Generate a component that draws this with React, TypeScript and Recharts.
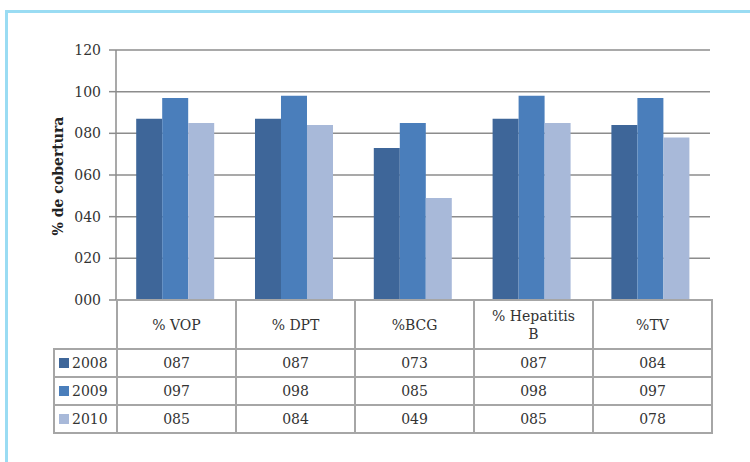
import * as React from "react"
import { BarChart, Bar, XAxis, YAxis, CartesianGrid } from "recharts"

const vaccines = ["% VOP", "% DPT", "%BCG", "% Hepatitis B", "%TV"]
const years = ["2008", "2009", "2010"]
const values2008 = [87, 87, 73, 87, 84]
const values2009 = [97, 98, 85, 98, 97]
const values2010 = [85, 84, 49, 85, 78]
const yTicks = [0, 20, 40, 60, 80, 100, 120]

const colors = ["#3e6699", "#4a7ebb", "#a8b9d9"]
const serif = "DejaVu Serif, serif"
const gridColor = "#8c8c8c"
const tableBorder = "2px solid #a6a6a6"

const pad3 = (v: number) => String(v).padStart(3, "0")

const data = vaccines.map((name, i) => ({
  name,
  "2008": values2008[i],
  "2009": values2009[i],
  "2010": values2010[i],
}))
const seriesValues = [values2008, values2009, values2010]

const cell: React.CSSProperties = {
  border: tableBorder,
  padding: 0,
  textAlign: "center",
  color: "#333",
}

export default function App() {
  return (
    <div
      style={{
        position: "fixed",
        left: 0,
        top: 0,
        width: 750,
        height: 462,
        overflow: "hidden",
        background: "#fff",
        fontFamily: serif,
      }}
    >
      {/* light blue frame */}
      <div
        style={{
          position: "absolute",
          left: 5,
          top: 10,
          width: 800,
          height: 500,
          borderTop: "3px solid #9adcf3",
          borderLeft: "3px solid #9adcf3",
        }}
      />
      <div style={{ position: "absolute", left: 0, top: 0 }}>
        <BarChart
          width={750}
          height={310}
          data={data}
          margin={{ top: 50, right: 40, bottom: 10, left: 0 }}
          barCategoryGap="17%"
          barGap={0}
        >
          <CartesianGrid vertical={false} stroke={gridColor} strokeWidth={1.5} />
          <XAxis dataKey="name" hide />
          <YAxis
            width={116}
            domain={[0, 120]}
            ticks={yTicks}
            interval={0}
            tickFormatter={pad3}
            tick={{ fill: "#333", fontSize: 14, fontFamily: serif }}
            tickSize={7}
            tickMargin={8}
            axisLine={{ stroke: gridColor, strokeWidth: 1.5 }}
            tickLine={{ stroke: gridColor, strokeWidth: 1.5 }}
            label={{
              content: () => (
                <text
                  x={58}
                  y={176}
                  transform="rotate(-90, 58, 176)"
                  textAnchor="middle"
                  dominantBaseline="central"
                  fontFamily={serif}
                  fontWeight="bold"
                  fontSize={14}
                  fill="#222"
                >
                  % de cobertura
                </text>
              ),
            }}
          />
          {years.map((y, i) => (
            <Bar key={y} dataKey={y} fill={colors[i]} isAnimationActive={false} />
          ))}
        </BarChart>
      </div>
      <table
        style={{
          position: "absolute",
          left: 53,
          top: 299,
          borderCollapse: "collapse",
          tableLayout: "fixed",
          fontFamily: serif,
          fontSize: 14,
        }}
      >
        <colgroup>
          <col style={{ width: 63 }} />
          {vaccines.map((v) => (
            <col key={v} style={{ width: 119 }} />
          ))}
        </colgroup>
        <tbody>
          <tr style={{ height: 49 }}>
            <td style={{ ...cell, borderTop: "none", borderLeft: "none" }} />
            {vaccines.map((v) => (
              <td key={v} style={{ ...cell, lineHeight: "18px" }}>
                {v === "% Hepatitis B" ? (
                  <>
                    % Hepatitis
                    <br />B
                  </>
                ) : (
                  v
                )}
              </td>
            ))}
          </tr>
          {years.map((y, i) => (
            <tr key={y} style={{ height: 28 }}>
              <td style={{ ...cell, textAlign: "left", paddingLeft: 4, whiteSpace: "nowrap" }}>
                <span
                  style={{
                    display: "inline-block",
                    width: 10,
                    height: 10,
                    background: colors[i],
                    marginRight: 3,
                  }}
                />
                {y}
              </td>
              {seriesValues[i].map((v, j) => (
                <td key={j} style={cell}>
                  {pad3(v)}
                </td>
              ))}
            </tr>
          ))}
        </tbody>
      </table>
    </div>
  )
}
